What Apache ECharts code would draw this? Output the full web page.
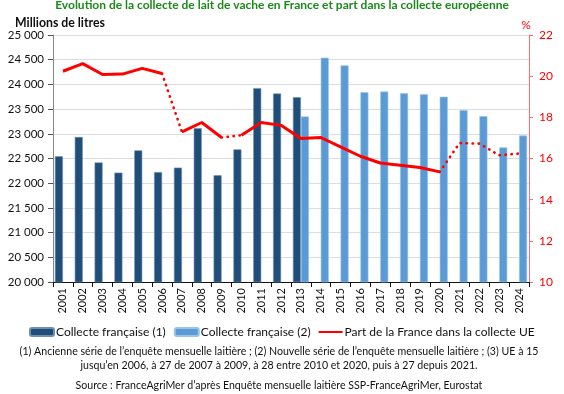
<!DOCTYPE html>
<html>
<head>
<meta charset="utf-8">
<script src="https://cdn.jsdelivr.net/npm/echarts@6/dist/echarts.min.js"></script>
<style>
html,body{margin:0;padding:0;background:#fff;}
#c{width:564px;height:394px;}
</style>
</head>
<body>
<div id="c"></div>
<script>
const years = ['2001','2002','2003','2004','2005','2006','2007','2008','2009','2010','2011','2012','2013','2014','2015','2016','2017','2018','2019','2020','2021','2022','2023','2024'];
const collecte1 = [22545,22935,22420,22215,22665,22225,22315,23115,22160,22685,23925,23815,23740,null,null,null,null,null,null,null,null,null,null,null];
const collecte2 = [null,null,null,null,null,null,null,null,null,null,null,null,23350,24540,24385,23840,23855,23820,23800,23750,23480,23355,22725,22965];
const partUE = [20.24,20.61,20.08,20.1,20.38,20.13,17.29,17.75,17.02,17.13,17.75,17.61,16.97,17.02,16.56,16.11,15.78,15.67,15.56,15.35,16.75,16.72,16.16,16.24];
const leftTicks = [20000,25000,500];
const rightTicks = [10,22,2];

const solidIdxA = [0,1,2,3,4,5,9,10,11,12,13,14,15,16,17,18,19];
const solidIdxB = [6,7,8];
const dottedIdx = [5,6,8,9,19,20,21,22,23];
const pick = idx => partUE.map((v,i)=> idx.includes(i) ? v : null);

const FONT = 'Lato';
const chart = echarts.init(document.getElementById('c'), null, {renderer:'canvas'});
const lineName = 'Part de la France dans la collecte UE';
const red = '#ff0000';
chart.setOption({
  animation:false,
  textStyle:{fontFamily:FONT},
  title:{
    text:'Évolution de la collecte de lait de vache en France et part dans la collecte européenne',
    left:'center', top:-6,
    textStyle:{color:'#1a8a1a', fontSize:12, fontWeight:'bold', fontFamily:FONT}
  },
  legend:{
    top:321, left:24,
    itemWidth:24, itemHeight:8, itemGap:8,
    textStyle:{fontSize:12, color:'#111', fontFamily:FONT, padding:[0,0,0,-3]},
    data:[
      {name:'Collecte française (1)'},
      {name:'Collecte française (2)'},
      {name:lineName, icon:'path://M0,3 L24,3 L24,5 L0,5 Z', itemStyle:{color:red}}
    ]
  },
  grid:{left:53, right:35, top:35, bottom:112},
  xAxis:{
    type:'category', data:years,
    axisLine:{lineStyle:{color:'#111', width:1}},
    axisTick:{show:true, alignWithLabel:false, length:5, lineStyle:{color:'#111'}},
    axisLabel:{rotate:90, fontSize:11, color:'#111', margin:6, fontFamily:FONT}
  },
  yAxis:[
    {
      type:'value', min:leftTicks[0], max:leftTicks[1], interval:leftTicks[2],
      name:'Millions de litres', nameLocation:'end', nameGap:3,
      nameTextStyle:{fontWeight:'bold', fontSize:12.3, color:'#111', align:'left', padding:[0,0,0,-38]},
      axisLine:{show:true, lineStyle:{color:'#888'}},
      axisTick:{show:true, length:5, lineStyle:{color:'#555'}},
      axisLabel:{fontSize:11.5, color:'#111', margin:9,
        formatter:v=> String(v).replace(/\B(?=(\d{3})+(?!\d))/g,' ')},
      splitLine:{lineStyle:{color:'#dcdcdc', width:1}}
    },
    {
      type:'value', min:rightTicks[0], max:rightTicks[1], interval:rightTicks[2],
      name:'%', nameLocation:'end', nameGap:4,
      nameTextStyle:{color:red, fontSize:12, align:'center', padding:[0,0,0,-6]},
      position:'right',
      axisLine:{show:true, lineStyle:{color:'#ff7070'}},
      axisTick:{show:true, length:4, lineStyle:{color:'#ff7070'}},
      axisLabel:{fontSize:12, color:red, margin:10},
      splitLine:{show:false}
    }
  ],
  series:[
    {name:'Collecte française (1)', type:'bar', data:collecte1, barWidth:8, barGap:'0%',
      itemStyle:{color:'#1f4e79', borderColor:'#6f8fb0', borderWidth:0.6}},
    {name:'Collecte française (2)', type:'bar', data:collecte2, barWidth:8, barGap:'0%',
      itemStyle:{color:'#5b9bd5', borderColor:'#9cc3e8', borderWidth:0.6}},
    {name:lineName, type:'line', yAxisIndex:1, data:pick(solidIdxA), symbol:'none',
      lineStyle:{color:red, width:3}, itemStyle:{color:red}, connectNulls:false},
    {name:lineName, type:'line', yAxisIndex:1, data:pick(solidIdxB), symbol:'none',
      lineStyle:{color:red, width:3}, itemStyle:{color:red}, connectNulls:false},
    {name:lineName, type:'line', yAxisIndex:1, data:pick(dottedIdx), symbol:'none',
      lineStyle:{color:red, width:2.6, type:[0.4,5.6], cap:'round'}, itemStyle:{color:red}, connectNulls:false}
  ],
  graphic:[
    {type:'text', x:279, y:352, style:{
      text:'(1) Ancienne série de l\u2019enquête mensuelle laitière ; (2) Nouvelle série de l\u2019enquête mensuelle laitière ; (3) UE à 15',
      textAlign:'center', textVerticalAlign:'middle', font:'10.6px '+FONT, fill:'#111'}},
    {type:'text', x:279, y:366, style:{
      text:'jusqu\u2019en 2006, à 27 de 2007 à 2009, à 28 entre 2010 et 2020, puis à 27 depuis 2021.',
      textAlign:'center', textVerticalAlign:'middle', font:'10.6px '+FONT, fill:'#111'}},
    {type:'text', x:279, y:386, style:{
      text:'Source : FranceAgriMer d\u2019après Enquête mensuelle laitière SSP-FranceAgriMer, Eurostat',
      textAlign:'center', textVerticalAlign:'middle', font:'10.6px '+FONT, fill:'#111'}}
  ]
});
</script>
</body>
</html>
